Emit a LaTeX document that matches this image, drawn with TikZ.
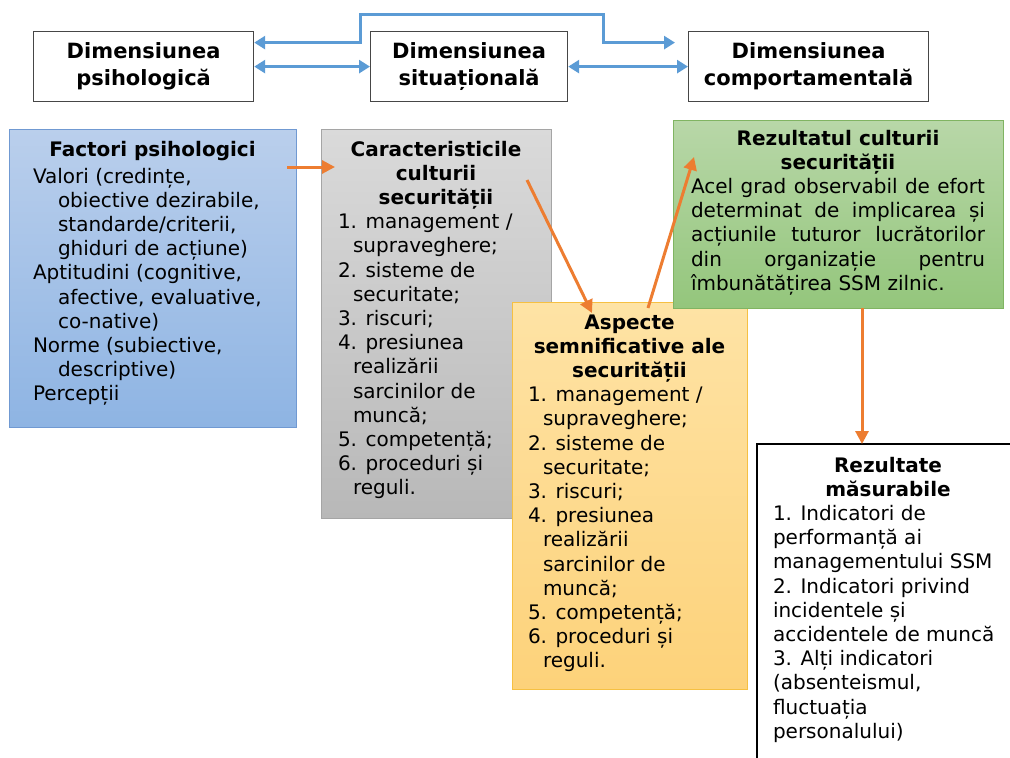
\documentclass[tikz,border=0pt]{standalone}
\usepackage{fontspec}
\setmainfont{DejaVu Sans}
\usetikzlibrary{arrows.meta,calc}

\definecolor{linkblue}{RGB}{91,155,213}
\definecolor{linkorange}{RGB}{237,125,49}
\definecolor{dimborder}{RGB}{70,70,70}
\definecolor{blueTop}{RGB}{186,207,236}
\definecolor{blueBot}{RGB}{142,180,227}
\definecolor{blueEdge}{RGB}{112,153,210}
\definecolor{greyTop}{RGB}{218,218,218}
\definecolor{greyBot}{RGB}{184,184,184}
\definecolor{greyEdge}{RGB}{165,165,165}
\definecolor{goldTop}{RGB}{254,227,165}
\definecolor{goldBot}{RGB}{253,210,122}
\definecolor{goldEdge}{RGB}{246,192,66}
\definecolor{greenTop}{RGB}{184,215,168}
\definecolor{greenBot}{RGB}{148,198,124}
\definecolor{greenEdge}{RGB}{128,180,98}

% hanging-indent paragraph used for list entries (lines broken with \newline)
\newcommand\hangpara[2]{\hangindent=#1\hangafter=1 #2\par}

\tikzset{
  dimbox/.style={draw=dimborder, line width=1.2pt, fill=white, align=center,
    anchor=north west, inner sep=0pt,
    font=\fontsize{21}{27}\selectfont\bfseries},
  panel/.style={anchor=north west, inner sep=0pt, outer sep=0pt, line width=1pt},
  body/.style={anchor=base west, inner sep=0pt, outer sep=0pt,
    font=\fontsize{20}{24.2}\selectfont},
  blink/.style={draw=linkblue, line width=3pt,
    {Triangle[length=11pt,width=13pt]}-{Triangle[length=11pt,width=13pt]}},
  olink/.style={draw=linkorange, line width=3pt,
    -{Triangle[length=13pt,width=13pt]}},
}

\begin{document}
\begin{tikzpicture}[x=1pt,y=-1pt]
\useasboundingbox (0,0) rectangle (1010,758);

% three dimensions
\node[dimbox, minimum width=220pt, minimum height=70pt] (dpsi) at (33,31) {Dimensiunea\\psihologică};
\node[dimbox, minimum width=197pt, minimum height=70pt] (dsit) at (370,31) {Dimensiunea\\situațională};
\node[dimbox, minimum width=240pt, minimum height=70pt] (dcomp) at (688,31) {Dimensiunea\\comportamentală};

\coordinate (hopL) at (360,14);
\coordinate (hopR) at (603,14);
\draw[blink] ([yshift=24pt]dpsi.east) -| (hopL) -- (hopR) |- ([xshift=-13pt,yshift=24pt]dcomp.west);
\draw[blink] (dpsi) -- (dsit);
\draw[blink] (dsit) -- (dcomp);

% coloured panels
\node[panel, draw=blueEdge, top color=blueTop, bottom color=blueBot,
  minimum width=287pt, minimum height=298pt] (fp) at (9,129) {};
\node[panel, draw=greyEdge, top color=greyTop, bottom color=greyBot,
  minimum width=230pt, minimum height=389pt] (cc) at (321,129) {};
\node[panel, draw=goldEdge, top color=goldTop, bottom color=goldBot,
  minimum width=235pt, minimum height=387pt] (as) at (512,302) {};
\node[panel, draw=greenEdge, top color=greenTop, bottom color=greenBot,
  minimum width=330pt, minimum height=188pt] (rc) at (673,120) {};
\node[panel, draw=black, line width=1.3pt, fill=white,
  minimum width=270pt, minimum height=330pt] (rm) at (757,444) {};

% panel texts
\node[body] (fpt) at (33,156) {\parbox[t]{239pt}{%
  {\centering\bfseries Factori psihologici\par}\vspace{2.8pt}%
  \raggedright
  \hangpara{25pt}{Valori (credințe,\newline obiective dezirabile,\newline standarde/criterii,\newline ghiduri de acțiune)}%
  \hangpara{25pt}{Aptitudini (cognitive,\newline afective, evaluative,\newline co-native)}%
  \hangpara{25pt}{Norme (subiective,\newline descriptive)}%
  \hangpara{25pt}{Percepții}}};

\node[body] (cct) at (338,156) {\parbox[t]{196pt}{%
  {\centering\bfseries Caracteristicile\\culturii\\securității\par}%
  \raggedright
  \hangpara{15pt}{1. management /\newline supraveghere;}%
  \hangpara{15pt}{2. sisteme de\newline securitate;}%
  \hangpara{15pt}{3. riscuri;}%
  \hangpara{15pt}{4. presiunea\newline realizării\newline sarcinilor de\newline muncă;}%
  \hangpara{15pt}{5. competență;}%
  \hangpara{15pt}{6. proceduri și\newline reguli.}}};

\node[body] (ast) at (528,329) {\parbox[t]{203pt}{%
  {\centering\bfseries Aspecte\\semnificative ale\\securității\par}%
  \raggedright
  \hangpara{15pt}{1. management /\newline supraveghere;}%
  \hangpara{15pt}{2. sisteme de\newline securitate;}%
  \hangpara{15pt}{3. riscuri;}%
  \hangpara{15pt}{4. presiunea\newline realizării\newline sarcinilor de\newline muncă;}%
  \hangpara{15pt}{5. competență;}%
  \hangpara{15pt}{6. proceduri și\newline reguli.}}};

\node[body] (rct) at (691,145) {\parbox[t]{294pt}{%
  {\centering\bfseries Rezultatul culturii\\securității\par}%
  \makebox[294pt][s]{Acel grad observabil de efort}\par
  \makebox[294pt][s]{determinat de implicarea și}\par
  \makebox[294pt][s]{acțiunile tuturor lucrătorilor}\par
  \makebox[294pt][s]{din organizație pentru}\par
  \makebox[294pt][l]{îmbunătățirea SSM zilnic.}}};

\node[body] (rmt) at (773,472) {\parbox[t]{230pt}{%
  {\centering\bfseries Rezultate\\măsurabile\par}%
  \raggedright
  1. Indicatori de\\performanță ai\\managementului SSM\\%
  2. Indicatori privind\\incidentele și\\accidentele de muncă\\%
  3. Alți indicatori\\(absenteismul,\\fluctuația\\personalului)}};

% flow between panels
\draw[olink] ($(fp.north east)+(-9,38)$) -- ($(cc.north west)+(14,38)$);
\draw[olink] ($(cc.north east)+(-24,51)$) -- ($(as.north west)+(80,11)$);
\draw[olink] ($(as.north west)+(136,6)$) -- ($(rc.north west)+(21,37)$);
\draw[olink] ([xshift=24pt]rc.south) -- ([xshift=24pt]rc.south |- rm.north);
\end{tikzpicture}
\end{document}
